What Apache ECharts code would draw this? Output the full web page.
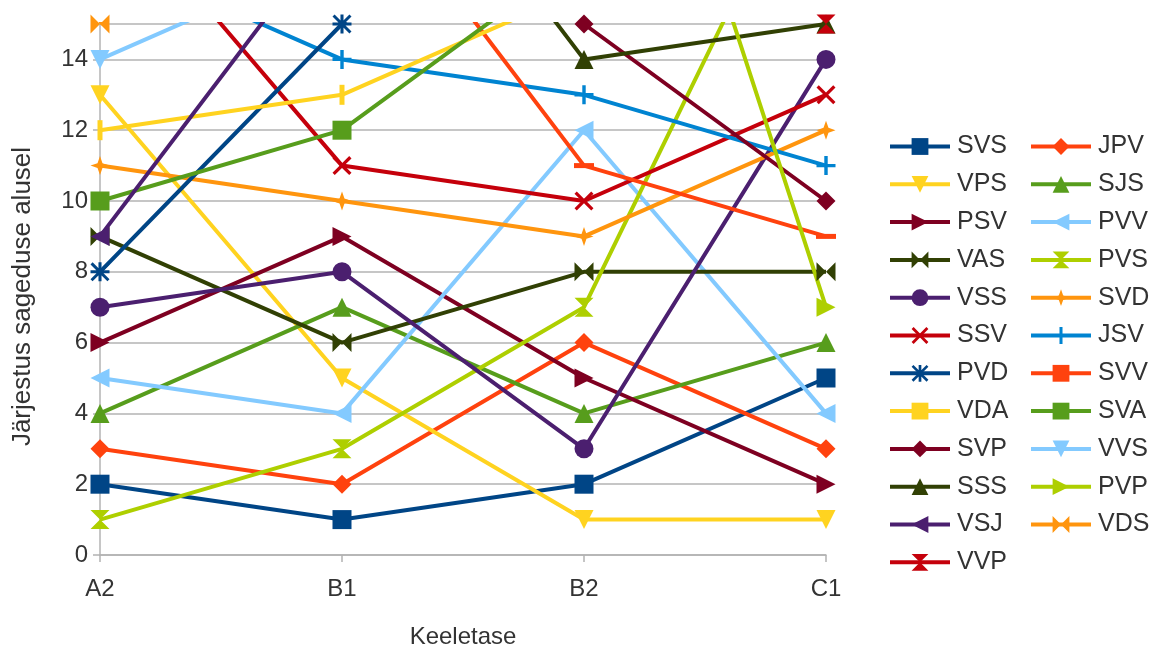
<!DOCTYPE html>
<html>
<head>
<meta charset="utf-8">
<script src="https://cdn.jsdelivr.net/npm/echarts@6/dist/echarts.min.js"></script>
<style>
  html, body { margin: 0; padding: 0; background: #fff; }
  #chart { width: 1158px; height: 652px; }
</style>
</head>
<body>
<div id="chart"></div>
<script>
// Language levels on the category axis
const levels = ['A2', 'B1', 'B2', 'C1'];

// Rank by frequency for each word group (values above 15 run off the top of the plot)
const SVS = [2, 1, 2, 5];
const JPV = [3, 2, 6, 3];
const VPS = [13, 5, 1, 1];
const SJS = [4, 7, 4, 6];
const PSV = [6, 9, 5, 2];
const PVV = [5, 4, 12, 4];
const VAS = [9, 6, 8, 8];
const PVS = [1, 3, 7, 21];
const VSS = [7, 8, 3, 14];
const SVD = [11, 10, 9, 12];
const SSV = [19, 11, 10, 13];
const JSV = [17, 14, 13, 11];
const PVD = [8, 15, 21, 19];
const SVV = [18, 20, 11, 9];
const VDA = [12, 13, 16, 17];
const SVA = [10, 12, 17, 16];
const SVP = [21, 20, 15, 10];
const VVS = [14, 17, 18, 20];
const SSS = [21, 23, 14, 15];
const PVP = [22, 25, 28, 7];
const VSJ = [9, 18, 20, 17];
const VDS = [15, 22, 20, 19];
const VVP = [23, 21, 22, 15];

const seriesNames = ['SVS', 'JPV', 'VPS', 'SJS', 'PSV', 'PVV', 'VAS', 'PVS', 'VSS', 'SVD', 'SSV', 'JSV',
                     'PVD', 'SVV', 'VDA', 'SVA', 'SVP', 'VVS', 'SSS', 'PVP', 'VSJ', 'VDS', 'VVP'];
const seriesValues = [SVS, JPV, VPS, SJS, PSV, PVV, VAS, PVS, VSS, SVD, SSV, JSV,
                      PVD, SVV, VDA, SVA, SVP, VVS, SSS, PVP, VSJ, VDS, VVP];

const yTicks = [0, 2, 4, 6, 8, 10, 12, 14];

// Office-style palette, cycled through the series
const palette = ['#004586', '#ff420e', '#ffd320', '#579d1c', '#7e0021', '#83caff',
                 '#314004', '#aecf00', '#4b1f6f', '#ff950e', '#c5000b', '#0084d1'];

// Marker shapes, cycled through the series
const markers = [
  { s: 'rect' },
  { s: 'path://M5,0L10,5L5,10L0,5Z' },                       // diamond
  { s: 'path://M0,0L10,0L5,10Z' },                           // arrow down
  { s: 'path://M5,0L10,10L0,10Z' },                          // arrow up
  { s: 'path://M0,0L10,5L0,10Z' },                           // arrow right
  { s: 'path://M10,0L0,5L10,10Z' },                          // arrow left
  { s: 'path://M0,0L5,5L0,10ZM10,0L10,10L5,5Z' },            // bow tie
  { s: 'path://M0,0L10,0L5,5ZM5,5L10,10L0,10Z' },            // hourglass
  { s: 'circle' },
  { s: 'path://M5,0L6.3,3.7L10,5L6.3,6.3L5,10L3.7,6.3L0,5L3.7,3.7Z' }, // star
  { s: 'path://M0,1.2L1.2,0L5,3.8L8.8,0L10,1.2L6.2,5L10,8.8L8.8,10L5,6.2L1.2,10L0,8.8L3.8,5Z' }, // x
  { s: 'path://M4.1,0H5.9V4.1H10V5.9H5.9V10H4.1V5.9H0V4.1H4.1Z' }, // plus
  { s: 'path://M4.2,0H5.8V10H4.2ZM0,4.2H10V5.8H0ZM1.1,0L10,8.9L8.9,10L0,1.1ZM8.9,0L10,1.1L1.1,10L0,8.9Z' }, // asterisk
  { s: 'rect', size: [20, 5] },                               // horizontal bar
  { s: 'rect', size: [5, 20] }                                // vertical bar
];

const leftLegend = seriesNames.filter((_, i) => i % 2 === 0);
const rightLegend = seriesNames.filter((_, i) => i % 2 === 1);

const series = seriesNames.map((name, i) => {
  const m = markers[i % markers.length];
  const color = palette[i % palette.length];
  return {
    name: name,
    type: 'line',
    data: seriesValues[i],
    symbol: m.s,
    symbolSize: m.size || 19,
    showAllSymbol: true,
    clip: true,
    animation: false,
    color: color,
    itemStyle: { color: color },
    lineStyle: { color: color, width: 4 },
    emphasis: { disabled: true }
  };
});

const chart = echarts.init(document.getElementById('chart'), null, { renderer: 'canvas' });

const FONT = 'Liberation Sans, Arial, sans-serif';
const legendCommon = {
  orient: 'vertical',
  top: 129,
  height: 520,
  itemWidth: 60,
  itemHeight: 21,
  itemGap: 12.8,
  lineStyle: { width: 4 },
  textStyle: { fontSize: 25, color: '#333', fontFamily: FONT, padding: [0, 0, 0, 2] },
  selectedMode: false
};

chart.setOption({
  animation: false,
  backgroundColor: '#ffffff',
  textStyle: { fontFamily: FONT },
  grid: { left: 100, right: 332, top: 24, bottom: 97, containLabel: false, outerBoundsMode: 'none' },
  legend: [
    Object.assign({}, legendCommon, { left: 883, data: leftLegend }),
    Object.assign({}, legendCommon, { left: 1024, data: rightLegend })
  ],
  xAxis: {
    type: 'category',
    data: levels,
    boundaryGap: false,
    name: 'Keeletase',
    nameLocation: 'middle',
    nameGap: 70,
    nameTextStyle: { fontSize: 24, color: '#333' },
    axisLine: { lineStyle: { color: '#b3b3b3', width: 1.5 } },
    axisTick: { show: true, length: 7, lineStyle: { color: '#b3b3b3', width: 1.5 } },
    axisLabel: { fontSize: 24, color: '#333', margin: 22 },
    splitLine: { show: false }
  },
  yAxis: {
    type: 'value',
    min: 0,
    max: 15,
    interval: 2,
    name: 'Järjestus sageduse alusel',
    nameLocation: 'middle',
    nameRotate: 90,
    nameGap: 64,
    nameTextStyle: { fontSize: 26, color: '#333', padding: [0, 14, 0, 0] },
    axisLine: { show: true, lineStyle: { color: '#b3b3b3', width: 1.5 } },
    axisTick: { show: true, length: 7, lineStyle: { color: '#b3b3b3', width: 1.5 } },
    axisLabel: {
      fontSize: 24, color: '#333', margin: 12,
      formatter: v => (yTicks.indexOf(v) >= 0 ? String(v) : '')
    },
    splitLine: { show: true, lineStyle: { color: '#b3b3b3', width: 1.5 } }
  },
  series: series
});
</script>
</body>
</html>
